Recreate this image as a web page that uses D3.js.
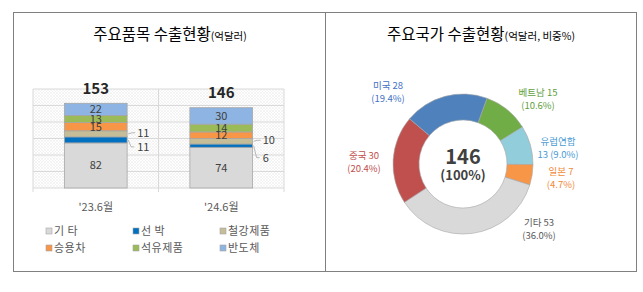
<!DOCTYPE html>
<html>
<head>
<meta charset="utf-8">
<script src="https://cdn.jsdelivr.net/npm/d3@7"></script>
<style>
  body { margin: 0; background: #fff; }
  svg text { font-family: "Noto Sans CJK KR", "Noto Sans", sans-serif; }
</style>
</head>
<body>
<svg id="chart"></svg>
<script>
// ---- data ----
const periods = ["'23.6월", "'24.6월"];
const items = ['기 타', '선 박', '철강제품', '승용차', '석유제품', '반도체'];
const itemColors = ['#d9d9d9', '#0070c0', '#c4bd97', '#f79646', '#9bbb59', '#8db4e2'];
const values23 = [82, 11, 11, 15, 13, 22];
const values24 = [74, 6, 10, 12, 14, 30];
const totals = [153, 146];
const yTicks = [0, 30, 60, 90, 120, 150, 180];

const countries = ['베트남', '유럽연합', '일본', '기타', '중국', '미국'];
const countryAmounts = [15, 13, 7, 53, 30, 28];
const countryShares = [10.6, 9.0, 4.7, 36.0, 20.4, 19.4];
const countryColors = ['#70ad47', '#92cddc', '#f79646', '#d9d9d9', '#c0504d', '#4f81bd'];
const countryTextColors = ['#5f9e3c', '#4a9ad4', '#f08a3c', '#595959', '#c0504d', '#4472c4'];
const donutTotal = 146;

const W = 643, H = 292;
const svg = d3.select('#chart').attr('width', W).attr('height', H);

// hatch pattern for bar plot area
const defs = svg.append('defs');
const pat = defs.append('pattern')
    .attr('id', 'hatch')
    .attr('width', 3).attr('height', 3)
    .attr('patternUnits', 'userSpaceOnUse');
pat.append('rect').attr('width', 3).attr('height', 3).attr('fill', '#fff');
pat.append('path').attr('d', 'M0,3 L3,0 M0,0 L3,3')
    .attr('stroke', '#ececec').attr('stroke-width', 0.6);

// panel frames
svg.append('rect').attr('x', 13.5).attr('y', 12.5).attr('width', 312).attr('height', 259)
    .attr('fill', 'none').attr('stroke', '#808080');
svg.append('rect').attr('x', 325.5).attr('y', 12.5).attr('width', 311).attr('height', 259)
    .attr('fill', 'none').attr('stroke', '#808080');

// titles
function title(x, main, sub) {
  const t = svg.append('text').attr('x', x).attr('y', 40)
      .attr('text-anchor', 'middle').attr('fill', '#000');
  t.append('tspan').attr('font-size', 15.5).text(main);
  t.append('tspan').attr('font-size', 10.5).text(sub);
}
title(170, '주요품목 수출현황', '(억달러)');
title(481, '주요국가 수출현황', '(억달러, 비중%)');

// ---- left: stacked bars ----
const plot = {left: 33, right: 284, top: 89, bottom: 188};
const x = d3.scaleBand().domain(periods)
    .range([plot.left, plot.right]).paddingInner(0.5).paddingOuter(0.25);
const y = d3.scaleLinear().domain([0, 180]).range([plot.bottom, plot.top]);

svg.append('rect')
    .attr('x', plot.left).attr('y', plot.top)
    .attr('width', plot.right - plot.left).attr('height', plot.bottom - plot.top)
    .attr('fill', 'url(#hatch)');

svg.append('g').selectAll('line').data(yTicks).join('line')
    .attr('x1', plot.left).attr('x2', plot.right)
    .attr('y1', d => y(d)).attr('y2', d => y(d))
    .attr('stroke', '#d9d9d9');
svg.append('g').selectAll('line').data([plot.left, (plot.left + plot.right) / 2, plot.right]).join('line')
    .attr('x1', d => d).attr('x2', d => d)
    .attr('y1', plot.top).attr('y2', plot.bottom + 4)
    .attr('stroke', '#d9d9d9');

const table = items.map((name, i) => {
  const row = {item: name};
  row[periods[0]] = values23[i];
  row[periods[1]] = values24[i];
  return row;
});
const stackData = periods.map(p => {
  const o = {period: p};
  items.forEach((it, i) => o[it] = table[i][p]);
  return o;
});
const series = d3.stack().keys(items)(stackData);

const layers = svg.append('g').selectAll('g').data(series).join('g')
    .attr('fill', (d, i) => itemColors[i]);
layers.selectAll('rect').data(d => d).join('rect')
    .attr('x', d => x(d.data.period))
    .attr('y', d => y(d[1]))
    .attr('width', x.bandwidth())
    .attr('height', d => y(d[0]) - y(d[1]))
    .attr('stroke', '#a6a6a6').attr('stroke-width', 0.8);

// segment labels
const small = {'선 박': 1, '철강제품': 1};
series.forEach((s, si) => {
  s.forEach((d, pi) => {
    const v = d[1] - d[0];
    const cy = (y(d[0]) + y(d[1])) / 2;
    const bx = x(d.data.period);
    if (!small[s.key]) {
      svg.append('text').attr('x', bx + x.bandwidth() / 2).attr('y', cy + 4)
          .attr('text-anchor', 'middle').attr('font-size', 11).attr('fill', '#404040')
          .text(v);
    } else {
      const ex = bx + x.bandwidth();
      const isShip = s.key === '선 박';
      const ly = isShip ? (pi === 0 ? cy + 7 : cy + 12) : cy - 1;
      const pts = isShip
          ? [[ex + 1, cy], [ex + 4, ly], [ex + 7, ly]]
          : [[ex + 1, cy], [ex + 5, ly], [ex + 8, ly]];
      svg.append('path').attr('d', d3.line()(pts))
          .attr('fill', 'none').attr('stroke', '#a6a6a6').attr('stroke-width', 0.8);
      svg.append('text').attr('x', ex + 10).attr('y', ly + 4)
          .attr('font-size', 11).attr('fill', '#404040').text(v);
    }
  });
});

// totals
svg.append('g').selectAll('text').data(periods).join('text')
    .attr('x', d => x(d) + x.bandwidth() / 2)
    .attr('y', (d, i) => y(totals[i]) - 10)
    .attr('text-anchor', 'middle').attr('font-size', 15).attr('font-weight', 'bold')
    .attr('fill', '#262626')
    .text((d, i) => totals[i]);

// x axis labels
svg.append('g').selectAll('text').data(periods).join('text')
    .attr('x', d => x(d) + x.bandwidth() / 2)
    .attr('y', 211)
    .attr('text-anchor', 'middle').attr('font-size', 11).attr('fill', '#595959')
    .text(d => d);

// legend
const legendOrder = [0, 1, 2, 3, 4, 5];
const lg = svg.append('g').selectAll('g').data(legendOrder).join('g')
    .attr('transform', (d, i) => `translate(${46 + (i % 3) * 87},${231 + Math.floor(i / 3) * 17})`);
lg.append('rect').attr('x', 0).attr('y', -3).attr('width', 6).attr('height', 6)
    .attr('fill', d => itemColors[d]).attr('stroke', '#a6a6a6').attr('stroke-width', 0.6);
lg.append('text').attr('x', 8).attr('y', 4)
    .attr('font-size', 11).attr('fill', '#595959').attr('letter-spacing', 0.5)
    .text(d => items[d]);

// ---- right: donut ----
const cx = 463, cy = 164;
const pie = d3.pie().sort(null).startAngle(20 * Math.PI / 180).endAngle(380 * Math.PI / 180);
const arcs = pie(countryShares);
const arc = d3.arc().innerRadius(44).outerRadius(70);
const dg = svg.append('g').attr('transform', `translate(${cx},${cy})`);
dg.selectAll('path').data(arcs).join('path')
    .attr('d', arc)
    .attr('fill', (d, i) => countryColors[i])
    .attr('stroke', '#a6a6a6').attr('stroke-width', 0.6);

dg.append('text').attr('y', 0).attr('text-anchor', 'middle')
    .attr('font-size', 20).attr('font-weight', 'bold').attr('fill', '#404040').text(donutTotal);
dg.append('text').attr('y', 16).attr('text-anchor', 'middle')
    .attr('font-size', 13).attr('font-weight', 'bold').attr('fill', '#404040').text('(100%)');

// label positions (centre x, first baseline)
const labelPos = [[538, 96], [558, 145], [561, 175], [539, 226], [364, 159], [388, 89]];
const labelLines = countries.map((c, i) => {
  if (c === '유럽연합') return [c, `${countryAmounts[i]} (${countryShares[i].toFixed(1)}%)`];
  return [`${c} ${countryAmounts[i]}`, `(${countryShares[i].toFixed(1)}%)`];
});
countries.forEach((c, i) => {
  const t = svg.append('text').attr('text-anchor', 'middle')
      .attr('font-size', 9.5).attr('fill', countryTextColors[i]);
  labelLines[i].forEach((line, k) => {
    t.append('tspan').attr('x', labelPos[i][0]).attr('y', labelPos[i][1] + k * 13).text(line);
  });
});
</script>
</body>
</html>
